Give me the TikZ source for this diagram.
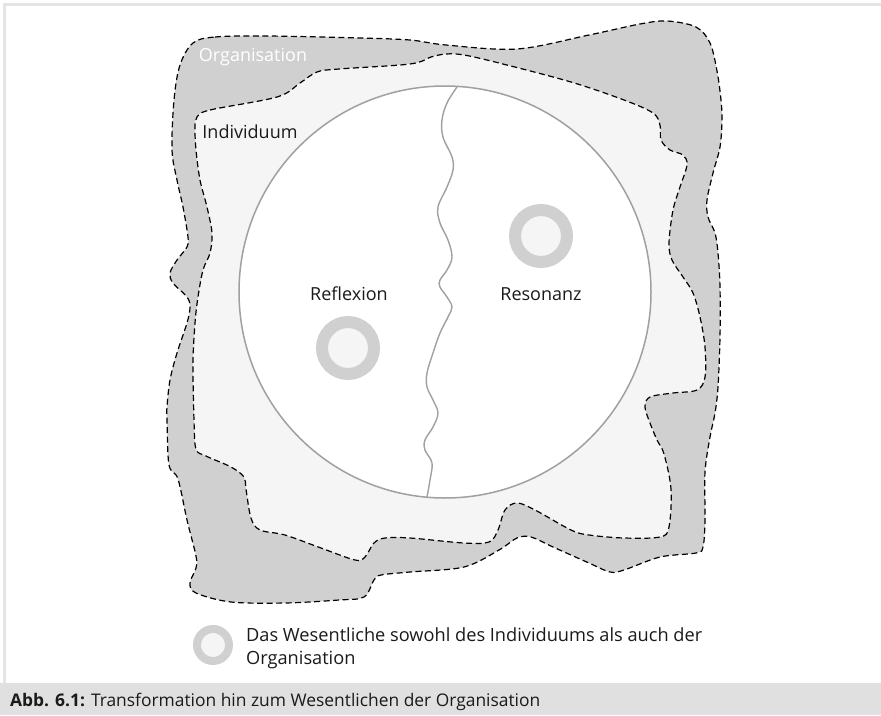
\documentclass[tikz,border=0pt]{standalone}
\usepackage{fontspec}
\setmainfont{Open Sans}
\definecolor{orggray}{RGB}{208,208,208}
\definecolor{indfill}{RGB}{245,245,245}
\definecolor{circgray}{RGB}{160,160,160}
\definecolor{framegray}{RGB}{229,229,229}
\definecolor{bandgray}{RGB}{224,224,224}
\definecolor{txt}{RGB}{26,26,26}
\begin{document}
\begin{tikzpicture}[x=1pt,y=-1pt,
  region/.style={draw=black, line width=1.2pt, dash pattern=on 6pt off 3.5pt, line join=round},
  lbl/.style={font=\fontsize{18}{21}\selectfont, text=txt, inner sep=0pt},
  legtext/.style={anchor=base west, inner sep=0pt, font=\fontsize{18.2}{21}\selectfont, text=txt},
  ring/.style={circle, draw=orggray, fill=indfill, inner sep=0pt},
  wave/.style={draw=circgray, line width=1.4pt, line cap=round}
]
\useasboundingbox (0,0) rectangle (881,715);
% frame
\fill[bandgray] (0,683) rectangle (881,715);
\fill[framegray] (3,3) rectangle (881,5.5);
\fill[framegray] (3,3) rectangle (5.5,683);
% Organisation region
\path[region, fill=orggray] plot[smooth cycle, tension=0.55] coordinates {
(193,43) (215,37) (267,36) (360,38) (410,40) (446,45) (517,49) (589,35) (640,24) (667,21) (696,27) (710,43) (717,71) (721,100) (722,120) (720,147) (713,173) (707,200) (708,217) (715,233) (718,253) (720,287) (720,337) (718,387) (715,413) (710,437) (705,472) (705,520) (703,547) (696,553) (660,557) (624,570) (610,572) (589,563) (553,547) (531,537) (517,538) (499,550) (464,567) (410,572) (381,575) (374,580) (364,597) (339,600) (285,603) (231,602) (196,593) (190,583) (196,568) (196,556) (187,520) (178,479) (169,465) (167,420) (167,407) (170,380) (177,353) (187,323) (190,307) (187,297) (173,283) (170,273) (177,260) (187,247) (188,237) (183,207) (177,180) (172,150) (174,100) (180,65)};
% Individuum region
\path[region, fill=indfill] plot[smooth cycle, tension=0.55] coordinates {
(197,117) (210,110) (277,97) (300,83) (317,72) (339,69) (410,64) (431,57) (446,54) (464,55) (499,63) (571,82) (624,100) (653,113) (660,125) (661,140) (670,150) (683,155) (687,165) (680,187) (673,210) (669,243) (672,260) (683,277) (693,293) (700,317) (705,347) (705,377) (697,390) (673,393) (650,397) (645,407) (650,423) (657,440) (664,454) (671,489) (669,527) (660,537) (624,538) (589,535) (571,530) (535,510) (517,503) (505,510) (498,530) (489,542) (464,543) (410,538) (385,538) (374,543) (365,557) (355,560) (321,548) (285,535) (260,530) (251,518) (246,489) (244,477) (231,467) (206,456) (196,449) (194,420) (193,363) (195,323) (198,297) (203,270) (210,253) (212,233) (207,207) (200,180) (196,150) (195,128)};
% big circle
\node[circle, draw=circgray, line width=1.5pt, fill=white, minimum size=412pt, inner sep=0pt] (ind) at (445,292) {};
% dividing wavy line
\draw[wave] plot[smooth, tension=0.6] coordinates {
(457,87) (447,103) (442,120) (443,137) (452,157) (453,170) (447,187) (438,207) (440,223) (448,240) (452,257) (447,270) (440,280) (440,287) (447,297) (452,307) (448,317) (440,333) (433,353) (427,373) (427,387) (433,400) (438,413) (433,427) (425,440) (425,450) (432,463) (430,480) (427,497)};
% labels
\node[lbl, text=white] (orglbl) at (253,57) {Organisation};
\node[lbl] (indlbl) at (250,132) {Individuum};
\node[lbl] (refl) at (349,294) {Reflexion};
\node[lbl] (reso) at (541,294) {Resonanz};
% rings
\node[ring, line width=12pt, minimum size=52pt] (ringrefl) at (348,348) {};
\node[ring, line width=12pt, minimum size=52pt] (ringreso) at (541,236) {};
% legend
\node[ring, line width=8pt, minimum size=32pt] (ringleg) at (213,645) {};
\node[legtext] (leg1) at (246,641) {Das Wesentliche sowohl des Individuums als auch der};
\node[legtext] (leg2) at (246,664) {Organisation};
% caption
\node[anchor=base west, inner sep=0pt, font=\fontsize{17.4}{20}\selectfont, text=txt] (cap) at (10,706) {\textbf{Abb. 6.1:} Transformation hin zum Wesentlichen der Organisation};
\end{tikzpicture}
\end{document}
